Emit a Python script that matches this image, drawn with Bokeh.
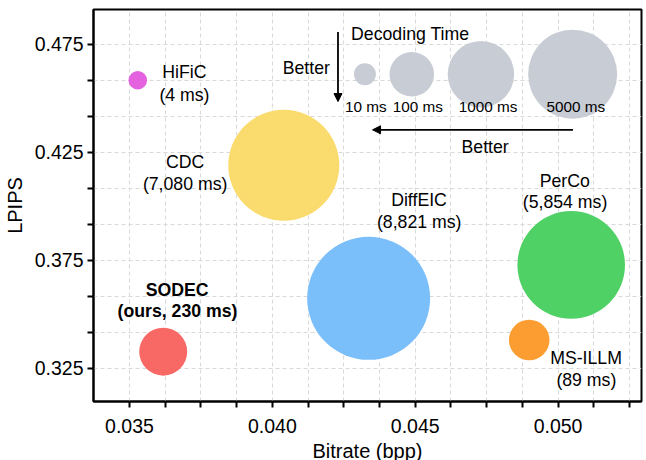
from bokeh.plotting import figure
from bokeh.models import ColumnDataSource, FixedTicker, Range1d, Arrow, NormalHead
from bokeh.core.properties import value
from bokeh.embed import file_html
from bokeh.resources import INLINE

# ---- data ----
methods = ["HiFiC", "CDC", "DiffEIC", "PerCo", "MS-ILLM", "SODEC"]
bitrate = [0.03529, 0.0404, 0.04337, 0.05046, 0.04899, 0.03618]
lpips = [0.4584, 0.4190, 0.3573, 0.3728, 0.3380, 0.3326]
decode_ms = [4, 7080, 8821, 5854, 89, 230]
time_labels = ["(4 ms)", "(7,080 ms)", "(8,821 ms)", "(5,854 ms)", "(89 ms)", "(ours, 230 ms)"]
colors = ["#e462df", "#fadb6e", "#7bbffa", "#50d165", "#fc9d32", "#f86864"]
bubble_px = [18.6, 111, 123, 107.6, 40.6, 48]

# label anchor positions (data units)
name_x = [0.036923, 0.036948, 0.045133, 0.050234, 0.05098, 0.036668]
name_y = [0.46241, 0.42046, 0.40301, 0.41171, 0.32953, 0.36134]
time_x = [0.036923, 0.036948, 0.045140, 0.050245, 0.05099, 0.036680]
time_y = [0.45162, 0.41042, 0.39282, 0.40185, 0.31947, 0.35130]

# size legend
legend_labels = ["10 ms", "100 ms", "1000 ms", "5000 ms"]
legend_x = [0.04324, 0.04488, 0.04730, 0.05051]
legend_y = [0.4612, 0.4612, 0.4612, 0.4612]
legend_px = [22, 44.6, 66.4, 89]
legend_label_x = [0.04327, 0.04509, 0.04755, 0.05062]
legend_label_y = [0.4462, 0.4462, 0.4462, 0.4462]

x_major = [0.035, 0.040, 0.045, 0.050]
x_minor = [0.03625, 0.0375, 0.03875, 0.04125, 0.0425, 0.04375,
           0.04625, 0.0475, 0.04875, 0.05125, 0.0525]
y_major = [0.325, 0.375, 0.425, 0.475]
y_minor = [0.341667, 0.358333, 0.391667, 0.408333, 0.441667, 0.458333]

FONT = "Liberation Sans"

p = figure(width=644, height=464, output_backend="svg", toolbar_location=None,
           x_range=Range1d(0.03374, 0.05292), y_range=Range1d(0.30949, 0.49120),
           min_border_left=93, min_border_right=3, min_border_top=9, min_border_bottom=63)
p.background_fill_color = "white"
p.border_fill_color = "white"
p.outline_line_color = "black"
p.outline_line_width = 2

p.xaxis.ticker = FixedTicker(ticks=x_major, minor_ticks=x_minor)
p.yaxis.ticker = FixedTicker(ticks=y_major, minor_ticks=y_minor)
p.xaxis.formatter.use_scientific = False
p.xaxis.major_label_overrides = {0.035: "0.035", 0.040: "0.040", 0.045: "0.045", 0.050: "0.050"}
p.yaxis.major_label_overrides = {0.325: "0.325", 0.375: "0.375", 0.425: "0.425", 0.475: "0.475"}

for ax in (p.xaxis, p.yaxis):
    ax.axis_line_width = 2
    ax.axis_line_color = "black"
    ax.major_tick_out = 6
    ax.major_tick_in = 0
    ax.minor_tick_out = 6
    ax.minor_tick_in = 0
    ax.major_tick_line_width = 2
    ax.minor_tick_line_width = 2
    ax.major_tick_line_color = "black"
    ax.minor_tick_line_color = "black"
    ax.major_label_text_font = FONT
    ax.major_label_text_font_size = "19.5px"
    ax.major_label_text_color = "black"
    ax.axis_label_text_font = FONT
    ax.axis_label_text_font_size = "20px"
    ax.axis_label_text_font_style = "normal"
    ax.axis_label_text_color = "black"

p.xaxis.axis_label = "Bitrate (bpp)"
p.yaxis.axis_label = "LPIPS"
p.xaxis.major_label_standoff = 11
p.xaxis.axis_label_standoff = 4
p.yaxis.major_label_standoff = 4
p.yaxis.axis_label_standoff = 6

for g in (p.xgrid, p.ygrid):
    g.grid_line_color = "#d9d9d9"
    g.grid_line_dash = "4 3"
    g.grid_line_width = 1
    g.minor_grid_line_color = "#d9d9d9"
    g.minor_grid_line_dash = "4 3"
    g.minor_grid_line_width = 1

# size legend bubbles
leg_src = ColumnDataSource(dict(x=legend_x, y=legend_y, s=legend_px))
p.scatter("x", "y", size="s", source=leg_src, fill_color="#c8ccd4", line_color=None)
leg_lab = ColumnDataSource(dict(x=legend_label_x, y=legend_label_y, t=legend_labels))
p.text("x", "y", text="t", source=leg_lab, text_font=value(FONT), text_font_size=value("15.3px"),
       text_align="center", text_baseline="middle", text_color="black")

p.text(x=[0.044825], y=[0.47963], text=["Decoding Time"], text_font=value(FONT),
       text_font_size=value("17.7px"), text_align="center", text_baseline="middle", text_color="black")
p.text(x=[0.041189, 0.047448], y=[0.46398, 0.42769], text=["Better", "Better"], text_font=value(FONT),
       text_font_size=value("17.7px"), text_align="center", text_baseline="middle", text_color="black")

p.add_layout(Arrow(end=NormalHead(size=8, fill_color="black", line_color="black"),
                   x_start=0.042297, y_start=0.48079, x_end=0.042297, y_end=0.44852,
                   line_width=1.8, line_color="black"))
p.add_layout(Arrow(end=NormalHead(size=8, fill_color="black", line_color="black"),
                   x_start=0.050524, y_start=0.43542, x_end=0.043507, y_end=0.43542,
                   line_width=1.8, line_color="black"))

# data bubbles
src = ColumnDataSource(dict(x=bitrate, y=lpips, s=bubble_px, c=colors, m=methods, ms=decode_ms))
p.scatter("x", "y", size="s", fill_color="c", line_color=None, source=src)

# labels
reg = [i for i in range(len(methods)) if methods[i] != "SODEC"]
bold = [i for i in range(len(methods)) if methods[i] == "SODEC"]
for idx, style in ((reg, "normal"), (bold, "bold")):
    p.text(x=[name_x[i] for i in idx], y=[name_y[i] for i in idx], text=[methods[i] for i in idx],
           text_font=value(FONT), text_font_size=value("17.7px"), text_font_style=style,
           text_align="center", text_baseline="middle", text_color="black")
    p.text(x=[time_x[i] for i in idx], y=[time_y[i] for i in idx], text=[time_labels[i] for i in idx],
           text_font=value(FONT), text_font_size=value("17.7px"), text_font_style=style,
           text_align="center", text_baseline="middle", text_color="black")

open("out.html", "w").write(file_html(p, INLINE))
